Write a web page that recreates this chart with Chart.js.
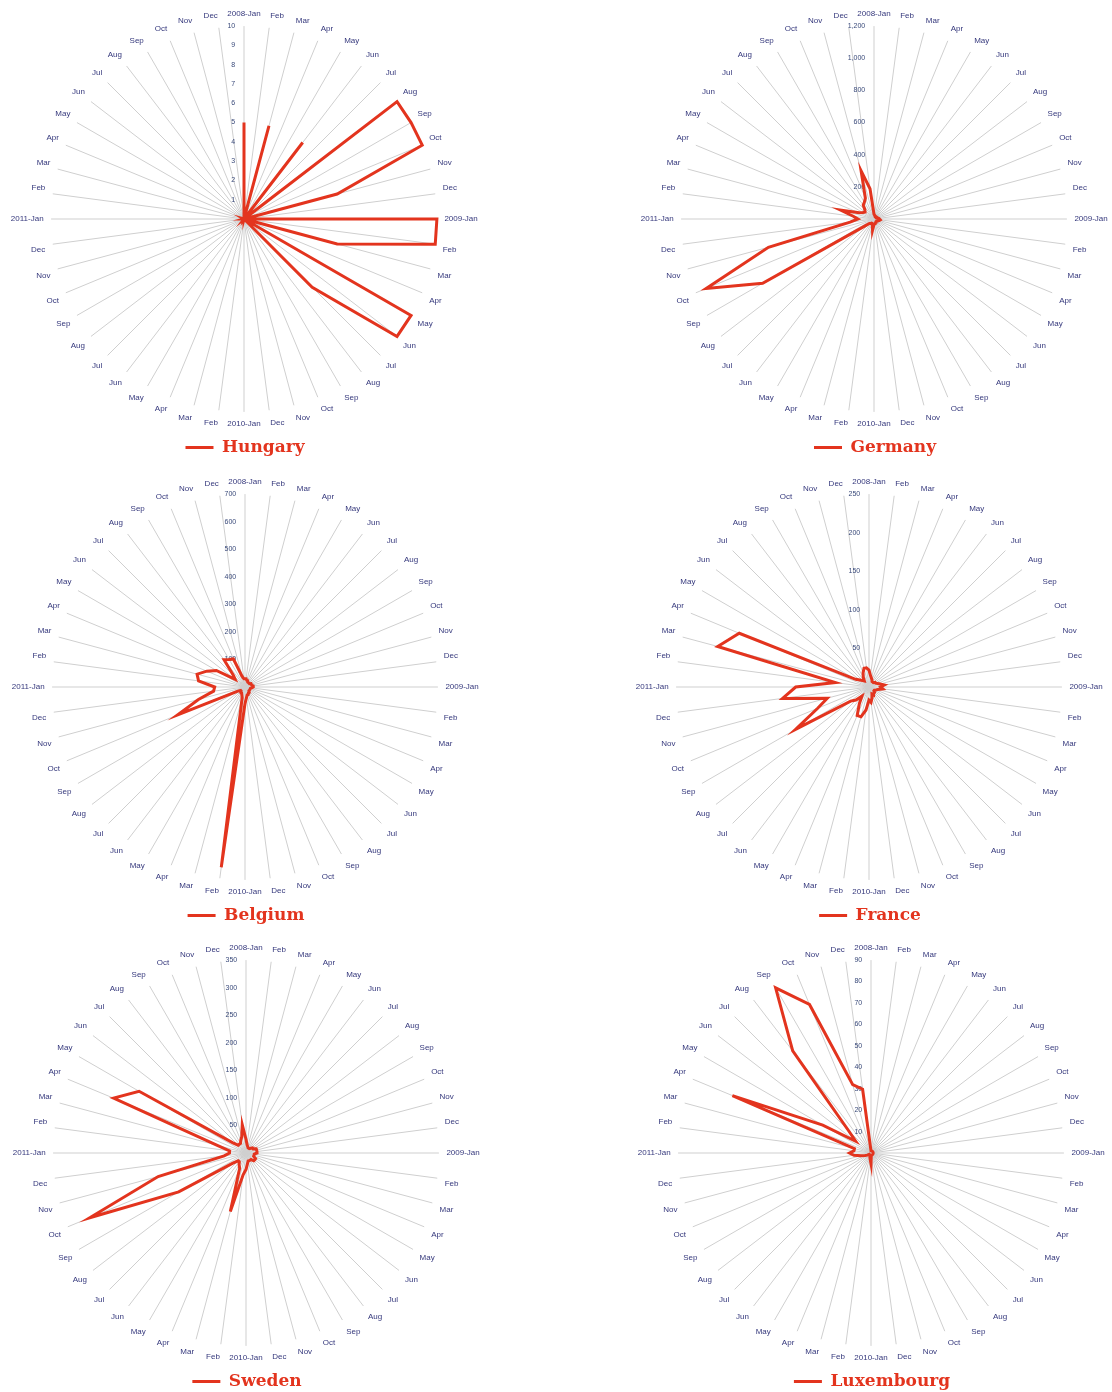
<!DOCTYPE html>
<html>
<head>
<meta charset="utf-8">
<script src="https://cdn.jsdelivr.net/npm/chart.js@4.4.1/dist/chart.umd.min.js"></script>
<style>
  html, body { margin: 0; padding: 0; background: #fff; }
  #wrap { position: relative; width: 1112px; height: 1392px; overflow: hidden; }
  .cell { position: absolute; width: 490px; height: 466px; }
</style>
</head>
<body>
<div id="wrap">
  <div class="cell" style="left:0px;top:0px"><canvas id="c-hu" width="490" height="466"></canvas></div>
  <div class="cell" style="left:630px;top:0px"><canvas id="c-de" width="490" height="466"></canvas></div>
  <div class="cell" style="left:1px;top:468px"><canvas id="c-be" width="490" height="466"></canvas></div>
  <div class="cell" style="left:625px;top:468px"><canvas id="c-fr" width="490" height="466"></canvas></div>
  <div class="cell" style="left:2px;top:934px"><canvas id="c-se" width="490" height="466"></canvas></div>
  <div class="cell" style="left:627px;top:934px"><canvas id="c-lu" width="490" height="466"></canvas></div>
</div>
<script>
// --- categories: 48 months, 2008-Jan .. 2011-Dec (clockwise from top) ---
const monthLabels = [
  '2008-Jan','Feb','Mar','Apr','May','Jun','Jul','Aug','Sep','Oct','Nov','Dec',
  '2009-Jan','Feb','Mar','Apr','May','Jun','Jul','Aug','Sep','Oct','Nov','Dec',
  '2010-Jan','Feb','Mar','Apr','May','Jun','Jul','Aug','Sep','Oct','Nov','Dec',
  '2011-Jan','Feb','Mar','Apr','May','Jun','Jul','Aug','Sep','Oct','Nov','Dec'
];

// --- series ---
const hungary = [
  5, 0, 5, 0, 0, 5, 0, 10, 10, 10, 5, 0,
  10, 10, 5, 0, 10, 10, 5, 0, 0, 0, 0, 0,
  0, 0, 0, 0, 0, 0, 0, 0, 0, 0, 0, 0,
  0, 0, 0, 0, 0, 0, 0, 0, 0, 0, 0, 0
];
const germany = [
  30, 25, 20, 20, 15, 15, 15, 15, 20, 20, 25, 30,
  35, 40, 35, 30, 25, 20, 20, 20, 25, 25, 30, 30,
  35, 70, 40, 30, 30, 35, 40, 70, 800, 1130, 680, 150,
  100, 130, 215, 100, 80, 70, 80, 110, 120, 140, 310, 190
];
const belgium = [
  30, 30, 25, 25, 20, 20, 20, 20, 25, 25, 25, 30,
  30, 25, 20, 20, 20, 20, 20, 25, 25, 30, 30, 40,
  60, 660, 40, 30, 25, 25, 20, 20, 30, 265, 175, 115,
  110, 170, 180, 150, 120, 45, 60, 125, 115, 110, 40, 30
];
const france = [
  22, 15, 12, 10, 8, 8, 8, 10, 10, 12, 15, 20,
  15, 18, 12, 10, 8, 8, 10, 10, 12, 10, 15, 20,
  17, 30, 40, 40, 25, 15, 24, 30, 110, 72, 56, 113,
  95, 44, 203, 182, 20, 15, 12, 10, 15, 20, 25, 25
];
const sweden = [
  25, 15, 12, 10, 10, 10, 12, 15, 15, 20, 20, 20,
  20, 15, 15, 15, 20, 20, 20, 15, 15, 15, 15, 20,
  30, 40, 110, 30, 25, 20, 20, 30, 141, 307, 165, 40,
  30, 30, 55, 260, 224, 30, 20, 20, 20, 25, 30, 52
];
const luxembourg = [
  1, 1, 1, 1, 1, 1, 1, 1, 1, 1, 1, 1,
  1, 1, 1, 1, 1, 1, 1, 1, 1, 1, 1, 1,
  5, 3, 2, 1, 1, 1, 1, 1, 2, 3, 5, 8,
  10, 8, 8, 70, 26, 9, 15, 60, 89, 75, 33, 30
];

// --- radial axis ranges ---
const axisMax  = { hu: 10, de: 1200, be: 700, fr: 250, se: 350, lu: 90 };
const axisStep = { hu: 1,  de: 200,  be: 100, fr: 50,  se: 50,  lu: 10 };

const RED = '#e3341e';
const LABEL_BLUE = '#35387c';

// tick labels sit left of the vertical spoke: pad with trailing spaces
function tickText(v) {
  const s = v.toLocaleString('en-US');
  const digits = s.replace(/[^0-9]/g, '').length;
  const commas = s.length - digits;
  return s + ' '.repeat(digits * 2 + commas + 9);
}

function makeRadar(id, name, values, key) {
  return new Chart(document.getElementById(id), {
    type: 'radar',
    data: {
      labels: monthLabels,
      datasets: [{
        label: name,
        data: values,
        borderColor: RED,
        backgroundColor: RED,
        borderWidth: 3,
        borderJoinStyle: 'miter',
        pointRadius: 0,
        pointHoverRadius: 0,
        fill: false,
        tension: 0
      }]
    },
    options: {
      responsive: false,
      animation: false,
      layout: { padding: { top: 9, bottom: 0, left: 0, right: 0 } },
      plugins: {
        tooltip: { enabled: false },
        legend: {
          position: 'bottom',
          labels: {
            boxWidth: 28,
            boxHeight: 3,
            color: RED,
            padding: 9,
            font: { family: '"DejaVu Serif", serif', size: 17, weight: 'bold' },
            generateLabels: (chart) =>
              Chart.defaults.plugins.legend.labels.generateLabels(chart)
                .map(l => Object.assign(l, { lineWidth: 0, fillStyle: RED, strokeStyle: RED }))
          }
        }
      },
      scales: {
        r: {
          min: 0,
          max: axisMax[key],
          grid: { display: false },
          angleLines: { display: true, color: '#cfcfcf', lineWidth: 1 },
          pointLabels: {
            color: LABEL_BLUE,
            padding: 2,
            font: { family: '"Liberation Sans", Arial, sans-serif', size: 8 }
          },
          ticks: {
            stepSize: axisStep[key],
            showLabelBackdrop: false,
            color: '#3a4a7a',
            font: { family: '"Liberation Sans", Arial, sans-serif', size: 7 },
            callback: (v) => tickText(v)
          }
        }
      }
    }
  });
}

makeRadar('c-hu', 'Hungary', hungary, 'hu');
makeRadar('c-de', 'Germany', germany, 'de');
makeRadar('c-be', 'Belgium', belgium, 'be');
makeRadar('c-fr', 'France', france, 'fr');
makeRadar('c-se', 'Sweden', sweden, 'se');
makeRadar('c-lu', 'Luxembourg', luxembourg, 'lu');
</script>
</body>
</html>
